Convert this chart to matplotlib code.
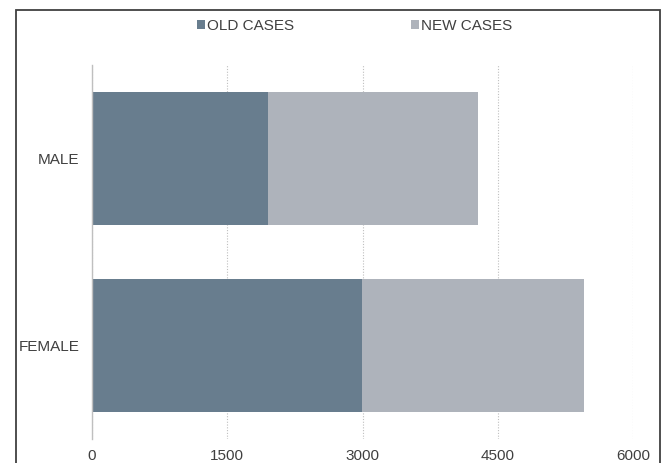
import matplotlib
matplotlib.use("Agg")
import matplotlib.pyplot as plt
from matplotlib.patches import Rectangle

categories = ["FEMALE", "MALE"]
old_cases = [2995, 1950]
new_cases = [2465, 2335]
x_ticks = [0, 1500, 3000, 4500, 6000]
series_names = ["OLD CASES", "NEW CASES"]
colors = ["#687d8e", "#aeb3bb"]

plt.rcParams["font.family"] = ["Liberation Sans", "DejaVu Sans"]

fig = plt.figure(figsize=(6.64, 4.63), dpi=100)
ax = fig.add_axes([92 / 664, 1 - 439 / 463, 541 / 664, 374 / 463])

ypos = range(len(categories))
ax.barh(ypos, old_cases, height=0.71, color=colors[0], label=series_names[0], zorder=2)
ax.barh(ypos, new_cases, left=old_cases, height=0.71, color=colors[1], label=series_names[1], zorder=2)

ax.set_xlim(0, 6000)
ax.set_ylim(-0.5, 1.5)
ax.set_xticks(x_ticks)
ax.set_xticklabels([str(t) for t in x_ticks])
ax.set_yticks(list(ypos))
ax.set_yticklabels(categories)
ax.tick_params(axis="both", length=0, labelsize=11, colors="#404040")
ax.tick_params(axis="x", pad=7)
ax.tick_params(axis="y", pad=9)

ax.xaxis.grid(True, linestyle=(0, (1, 1.5)), color="#bfbfbf", linewidth=0.8, zorder=0)
ax.set_axisbelow(True)
for s in ["top", "right", "bottom"]:
    ax.spines[s].set_visible(False)
ax.spines["left"].set_color("#bfbfbf")
ax.spines["left"].set_linewidth(1.0)

fig.legend(loc="center", bbox_to_anchor=(0.534, 1 - 26 / 463), ncol=2, frameon=False,
           fontsize=11, handlelength=0.55, handleheight=0.55, handletextpad=0.15,
           columnspacing=7.6, labelcolor="#404040")

fig.patches.append(Rectangle((16 / 664, -0.05), 644 / 664, 1.05 - 10 / 463,
                             transform=fig.transFigure, fill=False,
                             edgecolor="#404040", linewidth=1.3))

fig.savefig("out.png", dpi=100)
